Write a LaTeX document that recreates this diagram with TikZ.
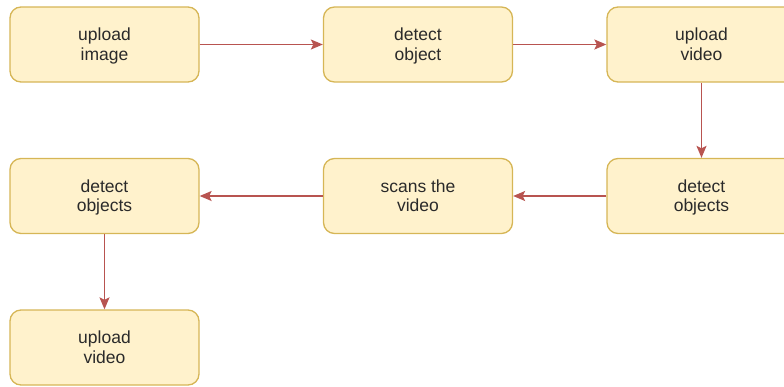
\documentclass[tikz,border=0pt]{standalone}
\usepackage{fontspec}
\setmainfont{Liberation Sans}
\usetikzlibrary{arrows.meta}
\definecolor{boxfill}{HTML}{FFF2CC}
\definecolor{boxline}{HTML}{D6B656}
\definecolor{flow}{HTML}{B85450}
\definecolor{ink}{HTML}{2A2A2A}
% two-line label with fixed struts so every box places its text alike
\newcommand{\twolines}[2]{\rule{0pt}{18pt}#1\\#2\rule[-6pt]{0pt}{6pt}}
\tikzset{
  stepbox/.style={draw=boxline, fill=boxfill, line width=1.3pt, rounded corners=11pt,
    minimum width=189pt, minimum height=75pt, align=center, text=ink,
    font=\fontsize{17.5}{19.5}\selectfont, inner sep=0pt},
  flowarrow/.style={draw=flow, line width=1.5pt, -{Stealth[length=12pt,width=10pt,inset=2.5pt]}}
}
\begin{document}
\begin{tikzpicture}[x=1pt,y=-1pt]
  \useasboundingbox (0,0) rectangle (784,386);
  \clip (0,0) rectangle (784,386);
  % top row
  \node[stepbox] (up1) at (104.5,44.5) {\twolines{upload}{image}};
  \node[stepbox] (det1) at (418,44.5) {\twolines{detect}{object}};
  \node[stepbox] (upv1) at (701.5,44.5) {\twolines{upload}{video}};
  % middle row
  \node[stepbox] (det2) at (701.5,196) {\twolines{detect}{objects}};
  \node[stepbox] (scan) at (418,196) {\twolines{scans the}{video}};
  \node[stepbox] (det3) at (104.5,196) {\twolines{detect}{objects}};
  % bottom row
  \node[stepbox] (upv2) at (104.5,347.5) {\twolines{upload}{video}};
  % connectors
  \draw[flowarrow] (up1) -- (det1);
  \draw[flowarrow] (det1) -- (upv1);
  \draw[flowarrow] (upv1) -- (det2);
  \draw[flowarrow] (det2) -- (scan);
  \draw[flowarrow] (scan) -- (det3);
  \draw[flowarrow] (det3) -- (upv2);
\end{tikzpicture}
\end{document}
